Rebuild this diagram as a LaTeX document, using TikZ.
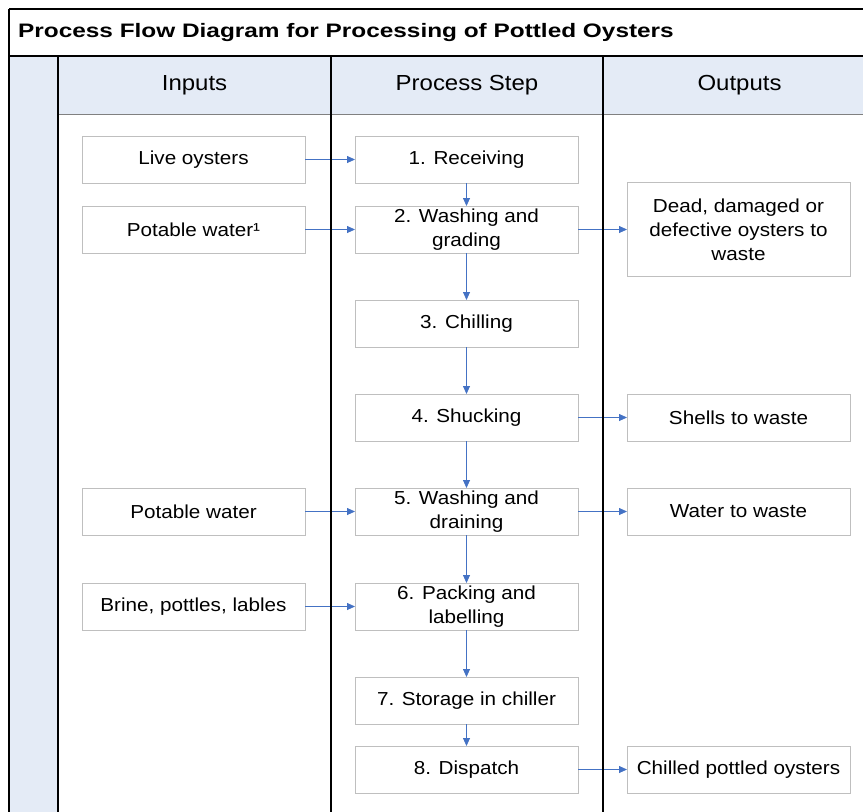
\documentclass[tikz,border=0pt]{standalone}
\usepackage{fontspec}
\setmainfont[FakeStretch=1.1]{Liberation Sans}
\newfontfamily\titlefont[FakeStretch=1.25]{Liberation Sans}
\usetikzlibrary{arrows.meta, positioning}
\definecolor{headblue}{HTML}{E4EBF6}
\definecolor{boxgray}{HTML}{BFBFBF}
\definecolor{arrblue}{HTML}{4472C4}

\begin{document}
\begin{tikzpicture}[
  x=1pt, y=-1pt,
  box/.style={rectangle, draw=boxgray, line width=0.8pt, minimum width=223pt, minimum height=47pt, inner sep=0pt, outer sep=0pt, align=center, font=\fontsize{18.8}{24}\selectfont},
  head/.style={inner sep=0pt, font=\fontsize{21.8}{26}\selectfont},
  arr/.style={-{Triangle[length=8pt, width=7pt]}, draw=arrblue, line width=0.8pt},
  frame/.style={line width=1.2pt},
]
\useasboundingbox (0,0) rectangle (863,812);
\clip (0,0) rectangle (863,812);

% Frame background
\fill[headblue] (9,56) rectangle (58,830);
\fill[headblue] (58,56) rectangle (880,114);
\draw[gray, line width=1pt] (58,114) -- (880,114);

\node[anchor=base west, inner sep=0pt, font=\titlefont\bfseries\fontsize{19.5}{24}\selectfont] (title) at (18,37.3) {Process Flow Diagram for Processing of Pottled Oysters};
\node[head] (h1) at (194.5,85) {Inputs};
\node[head] (h2) at (467,85) {Process Step};
\node[head] (h3) at (739.5,85) {Outputs};

% Process steps
\node[box] (s1) at (466.5,159.5) {1. Receiving};
\node[box, below=23pt of s1] (s2) {2. Washing and\\grading};
\node[box, below=47pt of s2] (s3) {3. Chilling};
\node[box, below=47pt of s3] (s4) {4. Shucking};
\node[box, below=47pt of s4] (s5) {5. Washing and\\draining};
\node[box, below=48pt of s5] (s6) {6. Packing and\\labelling};
\node[box, below=47pt of s6] (s7) {7. Storage in chiller};
\node[box, below=22pt of s7] (s8) {8. Dispatch};

% Inputs
\node[box, left=50pt of s1] (i1) {Live oysters};
\node[box, left=50pt of s2] (i2) {Potable water¹};
\node[box, left=50pt of s5] (i5) {Potable water};
\node[box, left=50pt of s6] (i6) {Brine, pottles, lables};

% Outputs
\node[box, minimum height=94pt, right=49pt of s2] (o2) {Dead, damaged or\\defective oysters to\\waste};
\node[box, right=49pt of s4] (o4) {Shells to waste};
\node[box, right=49pt of s5] (o5) {Water to waste};
\node[box, right=49pt of s8] (o8) {Chilled pottled oysters};

% Arrows
\draw[arr] (s1) -- (s2);
\draw[arr] (s2) -- (s3);
\draw[arr] (s3) -- (s4);
\draw[arr] (s4) -- (s5);
\draw[arr] (s5) -- (s6);
\draw[arr] (s6) -- (s7);
\draw[arr] (s7) -- (s8);
\draw[arr] (i1) -- (s1);
\draw[arr] (i2) -- (s2);
\draw[arr] (i5) -- (s5);
\draw[arr] (i6) -- (s6);
\draw[arr] (s2) -- (o2);
\draw[arr] (s4) -- (o4);
\draw[arr] (s5) -- (o5);
\draw[arr] (s8) -- (o8);

% Frame lines
\draw[frame] (9,9) -- (880,9);
\draw[frame] (9,56) -- (880,56);
\draw[line width=1.6pt] (9,9) -- (9,830);
\draw[frame] (58,56) -- (58,830);
\draw[frame] (331,56) -- (331,830);
\draw[frame] (603,56) -- (603,830);
\end{tikzpicture}
\end{document}
